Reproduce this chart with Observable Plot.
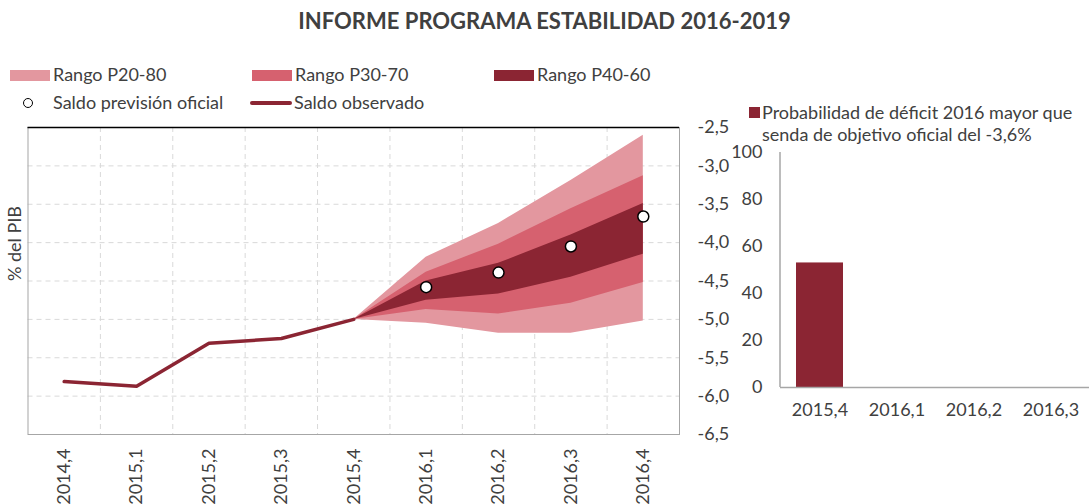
<!DOCTYPE html>
<html>
<head>
<meta charset="utf-8">
<script src="https://cdn.jsdelivr.net/npm/d3@7"></script>
<script src="https://cdn.jsdelivr.net/npm/@observablehq/plot@0.6"></script>
<style>
  html, body { margin: 0; padding: 0; background: white; }
  body { font-family: Lato, "Open Sans", sans-serif; color: #404040; }
  #wrap { position: relative; width: 1089px; height: 504px; overflow: hidden; }
  .abs { position: absolute; white-space: nowrap; }
  #title { left: 0; width: 1089px; top: 8px; text-align: center; font-weight: bold; font-size: 22px; line-height: 26px; }
  .lg { font-size: 18px; line-height: 20px; }
  #c1, #c2 { position: absolute; top: 0; }
  #c1 { left: 0; }
  #c2 { left: 680px; }
</style>
</head>
<body>
<div id="wrap">
  <div id="title" class="abs">INFORME PROGRAMA ESTABILIDAD 2016-2019</div>
  <div id="c1"></div>
  <div id="c2"></div>
  <div id="legend"></div>
</div>
<script>
// ---- Data ----
const quarters = ["2014,4","2015,1","2015,2","2015,3","2015,4","2016,1","2016,2","2016,3","2016,4"];
const observedQuarters = ["2014,4","2015,1","2015,2","2015,3","2015,4"];
const observed = [-5.81, -5.87, -5.31, -5.25, -5.0];
const officialQuarters = ["2016,1","2016,2","2016,3","2016,4"];
const official = [-4.58, -4.39, -4.05, -3.66];
const fanQuarters = ["2015,4","2016,1","2016,2","2016,3","2016,4"];
const p20 = [-5.0, -5.05, -5.18, -5.18, -5.02];
const p30 = [-5.0, -4.87, -4.93, -4.79, -4.52];
const p40 = [-5.0, -4.75, -4.67, -4.45, -4.15];
const p60 = [-5.0, -4.50, -4.27, -3.90, -3.49];
const p70 = [-5.0, -4.385, -4.02, -3.56, -3.13];
const p80 = [-5.0, -4.19, -3.75, -3.19, -2.60];
const yTicks = [-2.5, -3.0, -3.5, -4.0, -4.5, -5.0, -5.5, -6.0, -6.5];

const probCats = ["2015,4","2016,1","2016,2","2016,3"];
const probValues = [53, 0, 0, 0];
const probTicks = [0, 20, 40, 60, 80, 100];

const legendItems = ["Rango P20-80","Rango P30-70","Rango P40-60","Saldo previsión oficial","Saldo observado"];
const probLegend = ["Probabilidad de déficit 2016 mayor que", "senda de objetivo oficial del -3,6%"];

// ---- Colors ----
const cLight = "#e3979f", cMid = "#d6616f", cDark = "#8b2533", cText = "#404040";
const FS = 18;

const idx = q => quarters.indexOf(q);
const fan = fanQuarters.map((q, k) => ({i: idx(q), p20: p20[k], p30: p30[k], p40: p40[k], p60: p60[k], p70: p70[k], p80: p80[k]}));
const obs = observedQuarters.map((q, k) => ({i: idx(q), v: observed[k]}));
const off = officialQuarters.map((q, k) => ({i: idx(q), v: official[k]}));
const comma = d => d.toFixed(1).replace(".", ",");

const chart1 = Plot.plot({
  width: 740, height: 504,
  marginLeft: 27.5, marginRight: 61, marginTop: 127, marginBottom: 70,
  style: {background: "transparent", fontFamily: "Lato, sans-serif", fontSize: FS + "px", color: cText, overflow: "visible"},
  x: {type: "linear", domain: [-0.5, quarters.length - 0.5]},
  y: {domain: [-6.5, -2.5]},
  marks: [
    Plot.ruleX(d3.range(quarters.length - 1), {x: i => i + 0.5, stroke: "#d9d9d9", strokeDasharray: "5,4", strokeWidth: 1}),
    Plot.ruleY(yTicks.slice(1, -1), {stroke: "#d9d9d9", strokeDasharray: "5,4", strokeWidth: 1}),
    Plot.areaY(fan, {x: "i", y1: "p20", y2: "p80", fill: cLight}),
    Plot.areaY(fan, {x: "i", y1: "p30", y2: "p70", fill: cMid}),
    Plot.areaY(fan, {x: "i", y1: "p40", y2: "p60", fill: cDark}),
    Plot.line(obs, {x: "i", y: "v", stroke: cDark, strokeWidth: 3.5}),
    Plot.dot(off, {x: "i", y: "v", r: 5.5, fill: "white", stroke: "black", strokeWidth: 1.5}),
    Plot.frame({stroke: "#a6a6a6"}),
    Plot.ruleY([d3.max(yTicks)], {stroke: "black", strokeWidth: 1.5}),
    Plot.axisX(d3.range(quarters.length), {tickFormat: i => quarters[i], tickRotate: -90, tickSize: 0, tickPadding: 14, fontSize: FS, fill: cText, label: null}),
    Plot.axisY(yTicks, {anchor: "right", tickFormat: comma, tickSize: 0, tickPadding: 18, fontSize: FS, fill: cText, label: null}),
    Plot.text(["% del PIB"], {frameAnchor: "left", rotate: -90, dx: -13, fontSize: FS, fill: cText})
  ]
});
document.getElementById("c1").appendChild(chart1);

const probData = probCats.map((c, k) => ({c, v: probValues[k]}));
const chart2 = Plot.plot({
  width: 409, height: 504,
  marginLeft: 100, marginRight: 0, marginTop: 152, marginBottom: 117,
  style: {background: "transparent", fontFamily: "Lato, sans-serif", fontSize: FS + "px", color: cText, overflow: "visible"},
  x: {domain: probCats, paddingInner: 0.39, paddingOuter: 0.2},
  y: {domain: [0, 100]},
  marks: [
    Plot.barY(probData, {x: "c", y: "v", fill: cDark}),
    Plot.ruleY([0], {stroke: "#a6a6a6", strokeWidth: 1.5}),
    (index, scales, values, dim) => {
      const g = d3.create("svg:line")
        .attr("x1", dim.marginLeft).attr("x2", dim.marginLeft)
        .attr("y1", dim.marginTop).attr("y2", dim.height - dim.marginBottom)
        .attr("stroke", "#a6a6a6").attr("stroke-width", 1.5);
      return g.node();
    },
    Plot.axisY(probTicks, {tickSize: 0, tickPadding: 18, fontSize: FS, fill: cText, label: null}),
    Plot.axisX({tickSize: 0, tickPadding: 16, fontSize: FS, fill: cText, label: null})
  ]
});
document.getElementById("c2").appendChild(chart2);

// ---- Legends (HTML) ----
const L = document.getElementById("legend");
function add(html, style) {
  const d = document.createElement("div");
  d.className = "abs lg";
  Object.assign(d.style, style);
  d.innerHTML = html;
  L.appendChild(d);
}
const swatchColors = [cLight, cMid, cDark];
const swatchX = [10, 252, 494];
swatchColors.forEach((col, k) => {
  add("", {left: swatchX[k] + "px", top: "70px", width: "40px", height: "11px", background: col});
  add(legendItems[k], {left: (swatchX[k] + 43) + "px", top: "64px"});
});
add("", {left: "23px", top: "98px", width: "8px", height: "8px", border: "1.5px solid black", borderRadius: "50%", background: "white"});
add(legendItems[3], {left: "53px", top: "92px"});
add("", {left: "250px", top: "101px", width: "42px", height: "4px", borderRadius: "2px", background: cDark});
add(legendItems[4], {left: "294px", top: "92px"});
add("", {left: "749px", top: "107px", width: "11px", height: "11px", background: cDark});
add(probLegend[0], {left: "762px", top: "102px"});
add(probLegend[1], {left: "762px", top: "124px"});
</script>
</body>
</html>
